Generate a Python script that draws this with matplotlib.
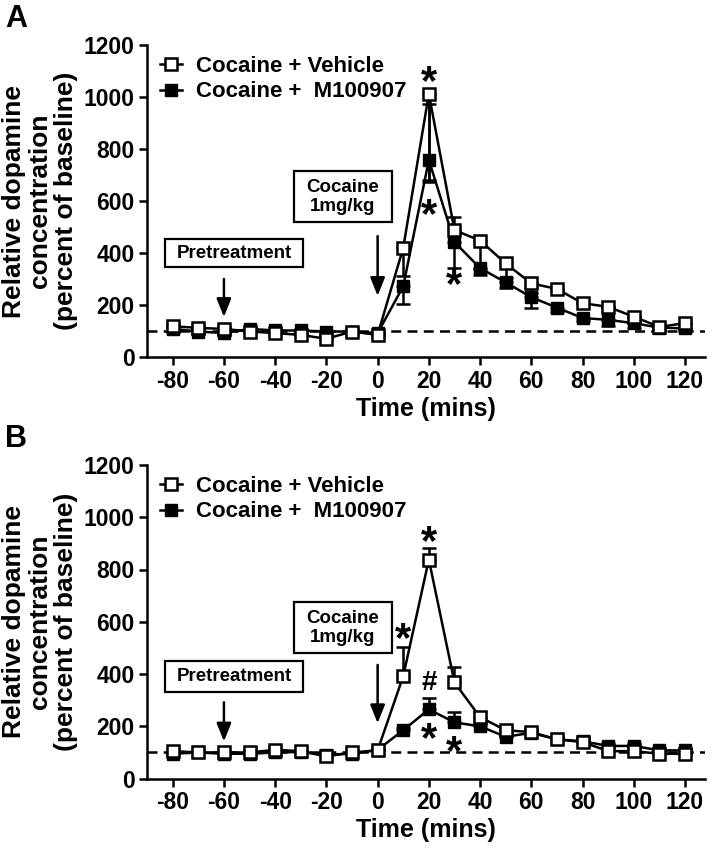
import matplotlib.pyplot as plt
from matplotlib.lines import Line2D
from matplotlib.patches import Rectangle

plt.rcParams['font.family'] = ['Liberation Sans', 'DejaVu Sans']
plt.rcParams['font.weight'] = 'bold'
plt.rcParams['axes.unicode_minus'] = False

times = [-80, -70, -60, -50, -40, -30, -20, -10, 0, 10, 20, 30, 40, 50, 60, 70, 80, 90, 100, 110, 120]

# panel A
a_veh = [118, 112, 108, 98, 92, 85, 70, 98, 85, 420, 1012, 488, 448, 360, 283, 262, 207, 193, 155, 116, 130]
a_veh_lo = [0, 0, 0, 0, 0, 0, 0, 0, 0, 110, 330, 0, 110, 55, 35, 0, 0, 0, 0, 0, 0]
a_veh_hi = [8, 8, 8, 8, 8, 8, 8, 8, 8, 0, 0, 50, 0, 0, 0, 0, 0, 0, 0, 0, 0]
a_fil = [108, 98, 92, 108, 102, 102, 98, 98, 92, 272, 758, 442, 342, 287, 230, 190, 150, 143, 130, 113, 110]
a_fil_lo = [8, 8, 8, 8, 8, 8, 8, 8, 8, 70, 85, 100, 25, 22, 40, 15, 12, 25, 18, 10, 10]
a_fil_hi = [0, 0, 0, 0, 0, 0, 0, 0, 0, 0, 215, 0, 0, 0, 0, 0, 0, 0, 0, 0, 0]

# panel B
b_veh = [105, 100, 100, 100, 110, 105, 85, 100, 108, 392, 838, 368, 235, 185, 178, 150, 140, 105, 105, 95, 95]
b_veh_lo = [0] * 21
b_veh_hi = [8, 5, 5, 8, 8, 5, 8, 5, 5, 110, 45, 60, 20, 10, 10, 10, 15, 15, 15, 10, 8]
b_fil = [95, 100, 95, 95, 100, 102, 92, 95, 110, 185, 265, 215, 200, 160, 175, 150, 143, 125, 125, 108, 108]
b_fil_lo = [0] * 21
b_fil_hi = [5, 5, 5, 5, 5, 5, 5, 5, 5, 10, 45, 40, 10, 10, 10, 10, 10, 10, 10, 8, 8]

a_marks = [(20, 1085, '*'), (20, 573, '*'), (30, 304, '*')]
b_marks = [(10, 561, '*'), (20, 932, '*'), (20, 366, '#'), (20, 178, '*'), (30, 128, '*')]

labels = ['Cocaine + Vehicle', 'Cocaine +  M100907']

fig = plt.figure(figsize=(7.14, 8.5), dpi=100)
ax_a = fig.add_axes([0.206, 0.58, 0.781, 0.367])
ax_b = fig.add_axes([0.206, 0.084, 0.781, 0.369])


def boxed(ax, x0, x1, y0, y1, txt):
    ax.add_patch(Rectangle((x0, y0), x1 - x0, y1 - y0, facecolor='white', edgecolor='black',
                           linewidth=1.6, zorder=5))
    ax.text((x0 + x1) / 2, (y0 + y1) / 2, txt, fontsize=13.5, fontweight='bold', ha='center',
            va='center', linespacing=1.15, zorder=6)


def arrow(ax, x, y0, y1):
    ax.annotate('', xy=(x, y1), xytext=(x, y0),
                arrowprops=dict(arrowstyle='-|>,head_length=0.55,head_width=0.22', color='black',
                                lw=1.8, mutation_scale=20, shrinkA=0, shrinkB=0))


def draw_panel(ax, veh, veh_lo, veh_hi, fil, fil_lo, fil_hi, marks, pre_box, coc_box, pre_arrow, coc_arrow):
    ax.axhline(100, color='black', linestyle=(0, (4, 2.5)), linewidth=1.8, zorder=1)
    ax.errorbar(times, fil, yerr=[fil_lo, fil_hi], fmt='s-', color='black', markersize=8,
                markerfacecolor='black', markeredgecolor='black', linewidth=1.8,
                elinewidth=1.8, capsize=5, capthick=1.8, zorder=3)
    ax.errorbar(times, veh, yerr=[veh_lo, veh_hi], fmt='s-', color='black', markersize=8.5,
                markerfacecolor='white', markeredgecolor='black', markeredgewidth=1.8, linewidth=1.8,
                elinewidth=1.8, capsize=5, capthick=1.8, zorder=4)

    for x, y, s in marks:
        if s == '*':
            ax.annotate(s, (x, y), xytext=(0, -0.46 * 30), textcoords='offset points', fontsize=30,
                        fontweight='bold', ha='center', va='baseline')
        else:
            ax.text(x, y, s, fontsize=20, fontweight='bold', ha='center', va='center')

    boxed(ax, *pre_box, 'Pretreatment')
    boxed(ax, *coc_box, 'Cocaine\n1mg/kg')
    arrow(ax, -60, *pre_arrow)
    arrow(ax, 0, *coc_arrow)

    ax.set_xlim(-90, 127.7)
    ax.set_ylim(0, 1200)
    ax.set_xticks(range(-80, 121, 20))
    ax.set_yticks(range(0, 1201, 200))
    ax.spines['top'].set_visible(False)
    ax.spines['right'].set_visible(False)
    ax.spines['left'].set_linewidth(1.8)
    ax.spines['bottom'].set_linewidth(1.8)
    ax.tick_params(width=1.8, length=6, labelsize=16.5, pad=3)
    for lab in ax.get_xticklabels() + ax.get_yticklabels():
        lab.set_fontweight('bold')
    ax.set_xlabel('Time (mins)', fontsize=18, fontweight='bold', labelpad=3)
    ax.set_ylabel('Relative dopamine\nconcentration\n(percent of baseline)', fontsize=19,
                  fontweight='bold', linespacing=1.1, labelpad=4)

    handles = [
        Line2D([], [], color='black', lw=1.8, marker='s', markersize=8, markerfacecolor='white',
               markeredgewidth=1.8),
        Line2D([], [], color='black', lw=1.8, marker='s', markersize=8, markerfacecolor='black'),
    ]
    ax.legend(handles, labels, loc='upper left', bbox_to_anchor=(0.023, 0.965), frameon=False,
              prop={'weight': 'bold', 'size': 16}, handlelength=1.0, handletextpad=0.63,
              labelspacing=0.2, borderaxespad=0, borderpad=0)


draw_panel(ax_a, a_veh, a_veh_lo, a_veh_hi, a_fil, a_fil_lo, a_fil_hi, a_marks,
           (-83, -29, 346, 454), (-32.5, 5.5, 519, 715), (300, 154), (465, 235))
draw_panel(ax_b, b_veh, b_veh_lo, b_veh_hi, b_fil, b_fil_lo, b_fil_hi, b_marks,
           (-83, -29, 331, 450), (-32.5, 5.5, 480, 676), (292, 142), (435, 212))

fig.text(0.007, 1 - 19 / 850, 'A', fontsize=22, fontweight='bold', va='center')
fig.text(0.007, 1 - 439 / 850, 'B', fontsize=22, fontweight='bold', va='center')

fig.savefig('out.png', dpi=100)
